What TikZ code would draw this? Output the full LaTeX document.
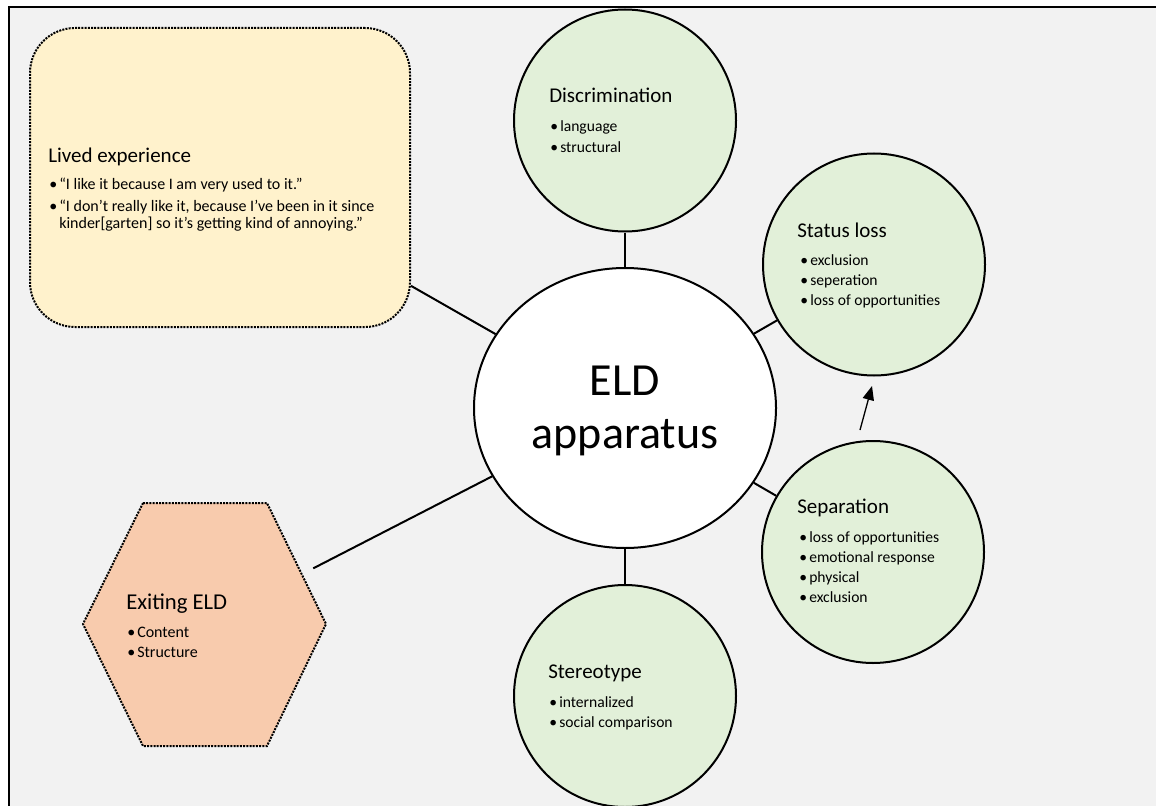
\documentclass[tikz,border=0pt]{standalone}
\usepackage{fontspec}
\setmainfont{Carlito}
\usetikzlibrary{arrows.meta,shapes.geometric}
\definecolor{bgrey}{HTML}{F2F2F2}
\definecolor{greenfill}{HTML}{E2F0D9}
\definecolor{yellowfill}{HTML}{FFF2CC}
\definecolor{peachfill}{HTML}{F8CBAD}
\newcommand{\bl}{\makebox[7.5pt][l]{•}}
\begin{document}
\begin{tikzpicture}[x=0.75pt,y=-0.75pt,
  bubble/.style={circle,draw=black,line width=1.5pt,fill=greenfill,minimum size=166.5pt,inner sep=0pt},
  hub/.style={ellipse,draw=black,line width=1.5pt,fill=white,minimum width=226.5pt,minimum height=210pt,inner sep=0pt},
  dotline/.style={line width=1.5pt,dash pattern=on 1.5pt off 0.9pt},
  conn/.style={line width=1.5pt},
  chead/.style={anchor=base west,inner sep=0pt,font=\fontsize{15.75}{19}\selectfont},
  citem/.style={anchor=base west,inner sep=0pt,font=\fontsize{11.7}{14}\selectfont},
  lhead/.style={anchor=base west,inner sep=0pt,font=\fontsize{15.75}{19}\selectfont},
  litem/.style={anchor=base west,inner sep=0pt,font=\fontsize{12}{14}\selectfont},
  hhead/.style={anchor=base west,inner sep=0pt,font=\fontsize{17}{20}\selectfont},
  hitem/.style={anchor=base west,inner sep=0pt,font=\fontsize{12}{14}\selectfont},
  bigtext/.style={anchor=base,inner sep=0pt,font=\fontsize{34.5}{40}\selectfont}
]
\useasboundingbox (0,0) rectangle (1156,806);
\clip (0,0) rectangle (1156,806);
% background and frame
\fill[white] (0,0) rectangle (1156,806);
\fill[bgrey] (8,7) rectangle (1156,806);
\draw[line width=1.5pt] (8.5,806) -- (8.5,7.5) -- (1156,7.5);

% shapes
\node[draw=black,dotline,fill=yellowfill,rounded corners=33.75pt,minimum width=285pt,minimum height=224.25pt,inner sep=0pt] (lived) at (220,177.5) {};
\fill[peachfill] (143,503) -- (267,503) -- (326,624) -- (267,746) -- (143,746) -- (83,624) -- cycle;
\draw[dotline] (143,503) -- (267,503) -- (326,624) -- (267,746) -- (143,746) -- (83,624) -- cycle;
\node[minimum width=162pt,minimum height=182pt,inner sep=0pt] (hex) at (205,624) {};

\node[hub] (eld) at (625,408) {};
\node[bubble] (disc) at (625,120.5) {};
\node[bubble] (stat) at (874,264.5) {};
\node[bubble] (sep) at (873,552) {};
\node[bubble] (ster) at (625,696) {};

% connectors
\draw[conn] (eld) -- (disc);
\draw[conn] (eld) -- (stat);
\draw[conn] (eld) -- (sep);
\draw[conn] (eld) -- (ster);
\draw[conn] (eld) -- (lived);
\draw[conn] (eld) -- (hex);

\coordinate (atail) at (860,430);
\coordinate (ahead) at (872,386);
\draw[line width=1pt,-{Triangle[length=10.5pt,width=8.5pt]}] (atail) -- (ahead);

% texts
\node[bigtext] (eldA) at (625,395) {ELD};
\node[bigtext] (eldB) at (625,448) {apparatus};

\node[chead] (discH) at (549,103) {Discrimination};
\node[citem] (discA) at (550,132) {\bl language};
\node[citem] (discB) at (550,152) {\bl structural};

\node[chead] (statH) at (797,237) {Status loss};
\node[citem] (statA) at (800,265) {\bl exclusion};
\node[citem] (statB) at (800,285) {\bl seperation};
\node[citem] (statC) at (800,305) {\bl loss of opportunities};

\node[chead] (sepH) at (797,513) {Separation};
\node[citem] (sepA) at (799,542) {\bl loss of opportunities};
\node[citem] (sepB) at (799,562) {\bl emotional response};
\node[citem] (sepC) at (799,582) {\bl physical};
\node[citem] (sepD) at (799,602) {\bl exclusion};

\node[chead] (sterH) at (548,678) {Stereotype};
\node[citem] (sterA) at (549,707) {\bl internalized};
\node[citem] (sterB) at (549,727) {\bl social comparison};

\node[lhead] (livH) at (48,162) {Lived experience};
\node[litem] (livA) at (49,190) {\bl “I like it because I am very used to it.”};
\node[litem] (livB) at (49,211.5) {\bl “I don’t really like it, because I’ve been in it since};
\node[litem] (livC) at (59,228) {kinder[garten] so it’s getting kind of annoying.”};

\node[hhead] (hexH) at (126,609) {Exiting ELD};
\node[hitem] (hexA) at (127,637) {\bl Content};
\node[hitem] (hexB) at (127,657) {\bl Structure};
\end{tikzpicture}
\end{document}
